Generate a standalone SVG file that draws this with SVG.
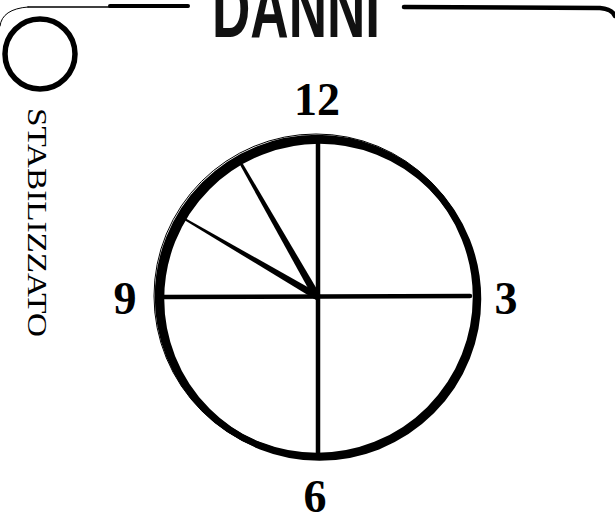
<svg xmlns="http://www.w3.org/2000/svg" width="615" height="517" viewBox="0 0 615 517">
<style>
.ink{fill:none;stroke:#000;stroke-linecap:round}
.num{font-family:"Liberation Serif",serif;font-weight:bold;font-size:46px;fill:#000;text-anchor:middle}
.side{font-family:"Liberation Serif",serif;font-size:27px;fill:#000}
.title{font-family:"Liberation Sans",sans-serif;font-weight:bold;font-size:82px;fill:#111}
</style>
<rect width="615" height="517" fill="#fff"/>
<g id="frame">
<path class="ink" d="M0,26 Q2,9 28,7" stroke-width="1" stroke="#555"/>
<path class="ink" d="M28,7 L188,7" stroke-width="1.5" stroke="#444"/>
<path class="ink" d="M110,6 L188,6" stroke-width="4"/>
<path class="ink" d="M404,7 L600,8 Q612,9 615,16" stroke-width="4.5"/>
</g>
<g id="title">
<text class="title" x="212" y="37" textLength="168" lengthAdjust="spacingAndGlyphs">DANNI</text>
</g>
<g id="status">
<circle class="ink" cx="40" cy="54" r="35" stroke-width="5.5"/>
<text class="side" transform="translate(28,108) rotate(90)" textLength="229" lengthAdjust="spacingAndGlyphs">STABILIZZATO</text>
</g>
<g id="clock">
<circle class="ink" cx="317" cy="297" r="159" stroke-width="6.5"/>
<circle class="ink" cx="319.5" cy="299" r="158.5" stroke-width="6.5"/>
<circle class="ink" cx="316" cy="296" r="162" stroke-width="1" stroke="#333"/>
</g>
<g id="connectors">
<line class="ink" x1="318" y1="143" x2="318" y2="453" stroke-width="4.5"/>
<line class="ink" x1="164" y1="297" x2="470" y2="296" stroke-width="4.5"/>
<polygon points="239,163 243,164 321,296 314,299" fill="#000"/>
<polygon points="181,218 185,218 320,294 316,300" fill="#000"/>
</g>
<g id="labels">
<text class="num" x="317" y="115">12</text>
<text class="num" x="506" y="314">3</text>
<text class="num" x="125" y="314">9</text>
<text class="num" x="315" y="512">6</text>
</g>
</svg>
